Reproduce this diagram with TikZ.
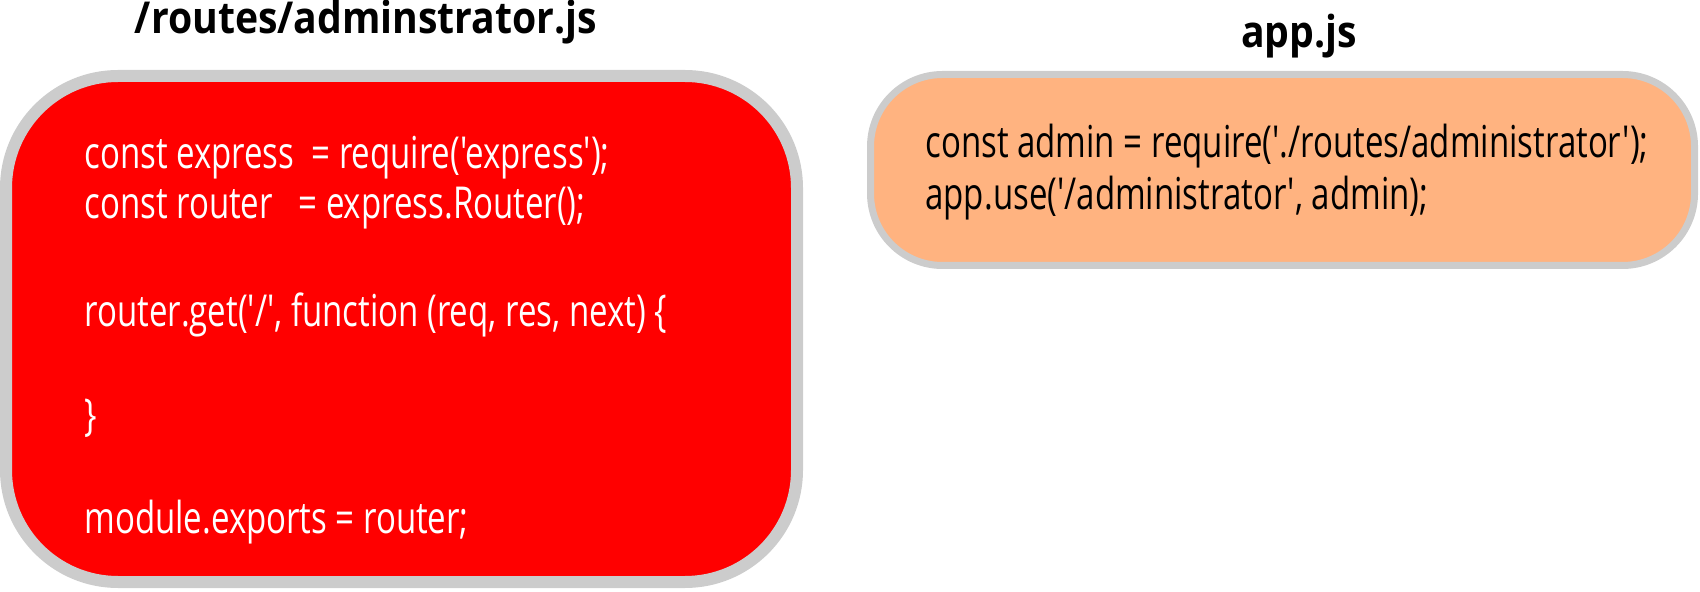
\documentclass[tikz,border=0pt]{standalone}
\usepackage{fontspec}
\newfontfamily\codefont{Open Sans}[FakeStretch=0.75,Ligatures=TeXOff]
\newfontfamily\titlefont{Open Sans}[FakeStretch=0.89,Ligatures=TeXOff]
\definecolor{boxgray}{HTML}{CCCCCC}
\definecolor{peach}{HTML}{FFB380}
\tikzset{
  routerbox/.style={draw=boxgray, fill=red, line width=6pt, rounded corners=56pt,
    inner sep=0pt, outer sep=0pt, minimum width=395.5pt, minimum height=253pt},
  appbox/.style={draw=boxgray, fill=peach, line width=3.5pt, rounded corners=36pt,
    inner sep=0pt, outer sep=0pt, minimum width=412pt, minimum height=95.5pt},
  codeline/.style={anchor=base west, inner sep=0pt, font=\codefont\fontsize{22}{26}\selectfont},
  whitecode/.style={codeline, text=white},
  blackcode/.style={codeline, text=black},
  filetitle/.style={anchor=base, inner sep=0pt, font=\titlefont\bfseries\fontsize{22}{26}\selectfont}
}
\begin{document}
\begin{tikzpicture}[x=0.5pt,y=-0.5pt]
\useasboundingbox (0,0) rectangle (1700,592);
% titles
\node[filetitle] (t1) at (366,34) {/routes/adminstrator.js};
\node[filetitle] (t2) at (1299,48) {app.js};
% boxes
\node[routerbox] (router) at (401.5,329) {};
\node[appbox] (app) at (1282.5,170) {};
% router code
\node[whitecode] (r1) at (84,169) {const express\ \ = require('express');};
\node[whitecode] (r2) at (84,219) {const router\ \ \ = express.Router();};
\node[whitecode] (r3) at (84,327) {router.get('/', function (req, res, next) \{};
\node[whitecode] (r4) at (84,430) {\}};
\node[whitecode] (r5) at (84,533) {module.exports = router;};
% app code
\node[blackcode] (a1) at (925,158) {const admin = require('./routes/administrator');};
\node[blackcode] (a2) at (925,210) {app.use('/administrator', admin);};
\end{tikzpicture}
\end{document}
